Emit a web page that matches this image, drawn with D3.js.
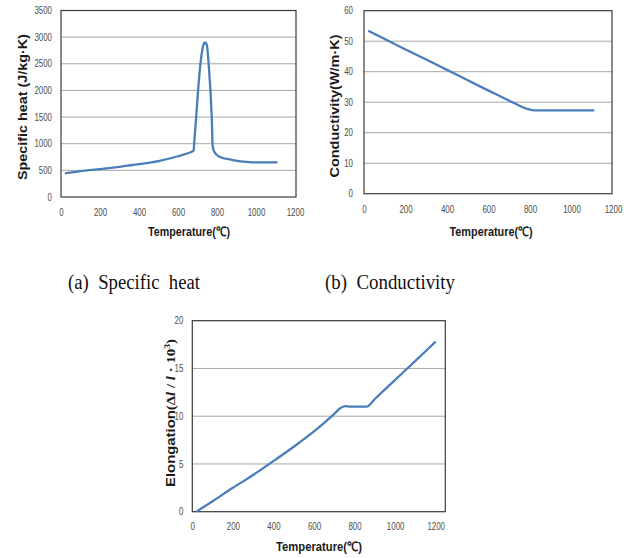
<!DOCTYPE html>
<html>
<head>
<meta charset="utf-8">
<script src="https://cdn.jsdelivr.net/npm/d3@7.9.0/dist/d3.min.js"></script>
<style>
  body { margin: 0; background: #fff; }
  svg { display: block; }
  .tick text { font-family: "Liberation Sans", sans-serif; font-size: 10px; fill: #4d4d4d; }
  .xtitle, .ytitle { font-family: "Liberation Sans", Arial, sans-serif; font-weight: bold; fill: #1a1a1a; }
  .caption { font-family: "Liberation Serif", "Times New Roman", serif; font-size: 20px; fill: #111; }
</style>
</head>
<body>
<svg id="fig" width="629" height="558"></svg>
<script>
// (a) specific heat
const tempHeat     = [20, 100, 200, 300, 400, 500, 600, 650, 680, 683, 693, 715, 730, 739, 748, 757, 773, 778, 786, 812, 880, 965, 1000, 1110];
const specificHeat = [444, 487, 525, 567, 615, 675, 765, 820, 870, 1000, 1500, 2500, 2850, 2900, 2850, 2500, 1500, 950, 850, 756, 694, 655, 650, 650];

// (b) conductivity
const tempCond     = [20, 100, 200, 300, 400, 500, 600, 700, 760, 790, 810, 830, 1110];
const conductivity = [53.4, 50.7, 47.3, 44.0, 40.6, 37.2, 33.8, 30.5, 28.5, 27.7, 27.4, 27.3, 27.3];

// (c) elongation
const tempElong  = [20, 100, 200, 300, 400, 500, 600, 650, 700, 735, 755, 780, 860, 900, 1000, 1100, 1200];
const elongation = [0, 1.1, 2.5, 3.85, 5.3, 6.8, 8.4, 9.3, 10.25, 10.9, 11.05, 11.0, 11.0, 11.8, 13.8, 15.8, 17.8];

const xTicks = [0, 200, 400, 600, 800, 1000, 1200];
const heatTicks = [0, 500, 1000, 1500, 2000, 2500, 3000, 3500];
const condTicks = [0, 10, 20, 30, 40, 50, 60];
const elongTicks = [0, 5, 10, 15, 20];

const LINE = "#4a7ebb";
const fmt = d3.format("d");
const svg = d3.select("#fig");
svg.append("rect").attr("width", 629).attr("height", 558).attr("fill", "#fff");

// narrow tick digits like the original
function squeeze(axisG) {
  axisG.selectAll(".tick text")
    .attr("textLength", function () { return this.textContent.length * 4.4; })
    .attr("lengthAdjust", "spacingAndGlyphs");
}

function drawPanel(p) {
  const x = d3.scaleLinear().domain([0, 1200]).range([p.left, p.x1200]);
  const y = d3.scaleLinear().domain([0, p.ymax]).range([p.bottom, p.top]);
  const g = svg.append("g");

  // gridlines
  g.selectAll("line.grid")
    .data(p.yTicks.filter(d => d > 0 && d < p.ymax))
    .join("line")
    .attr("x1", p.left).attr("x2", p.right)
    .attr("y1", d => y(d)).attr("y2", d => y(d))
    .attr("stroke", "#a6a6a6").attr("stroke-width", 1);

  // plot border
  g.append("rect")
    .attr("x", p.left).attr("y", p.top)
    .attr("width", p.right - p.left).attr("height", p.bottom - p.top)
    .attr("fill", "none").attr("stroke", "#3a3a3a").attr("stroke-width", 1.2);

  const xa = g.append("g").attr("transform", `translate(0,${p.bottom})`)
    .call(d3.axisBottom(x).tickValues(xTicks).tickFormat(fmt).tickSize(0).tickPadding(p.xpad));
  xa.select(".domain").remove();
  squeeze(xa);

  const ya = g.append("g").attr("transform", `translate(${p.left},0)`)
    .call(d3.axisLeft(y).tickValues(p.yTicks).tickFormat(fmt).tickSize(0).tickPadding(p.ypad));
  ya.select(".domain").remove();
  squeeze(ya);

  g.append("path")
    .datum(p.xs.map((t, i) => [t, p.ys[i]]))
    .attr("fill", "none")
    .attr("stroke", LINE)
    .attr("stroke-width", 2.3)
    .attr("stroke-linejoin", "round")
    .attr("d", d3.line().x(d => x(d[0])).y(d => y(d[1])).curve(d3.curveMonotoneX));

  g.append("text").attr("class", "xtitle")
    .attr("x", p.xtx).attr("y", p.xty)
    .attr("text-anchor", "middle")
    .attr("font-size", 13)
    .attr("textLength", p.xtw).attr("lengthAdjust", "spacingAndGlyphs")
    .text("Temperature(℃)");

  const yt = g.append("text").attr("class", "ytitle")
    .attr("transform", `translate(${p.ytx},${p.yty}) rotate(-90)`)
    .attr("text-anchor", "middle")
    .attr("font-size", 12.5);
  p.ytitle(yt);
}

drawPanel({
  left: 61, right: 296, x1200: 295, top: 10.5, bottom: 197, ymax: 3500,
  yTicks: heatTicks, xs: tempHeat, ys: specificHeat, xpad: 12, ypad: 9,
  xtx: 189, xty: 236, xtw: 82, ytx: 27, yty: 107,
  ytitle: t => t.attr("textLength", 146).attr("lengthAdjust", "spacingAndGlyphs").text("Specific heat (J/kg·K)")
});

drawPanel({
  left: 364, right: 612, x1200: 613, top: 10.7, bottom: 193.7, ymax: 60,
  yTicks: condTicks, xs: tempCond, ys: conductivity, xpad: 12, ypad: 11,
  xtx: 491, xty: 236, xtw: 83, ytx: 339, yty: 106,
  ytitle: t => t.attr("textLength", 143).attr("lengthAdjust", "spacingAndGlyphs").text("Conductivity(W/m·K)")
});

drawPanel({
  left: 192.3, right: 445.3, x1200: 435.7, top: 320.7, bottom: 511.7, ymax: 20,
  yTicks: elongTicks, xs: tempElong, ys: elongation, xpad: 11, ypad: 9,
  xtx: 319, xty: 551, xtw: 86, ytx: 175, yty: 413,
  ytitle: t => {
    t.attr("textLength", 148).attr("lengthAdjust", "spacingAndGlyphs");
    t.append("tspan").text("Elongation");
    t.append("tspan").attr("font-family", "Liberation Serif, serif").text("(Δ");
    t.append("tspan").attr("font-family", "Liberation Serif, serif").attr("font-style", "italic").text("l");
    t.append("tspan").attr("font-family", "Liberation Serif, serif").text(" / ");
    t.append("tspan").attr("font-family", "Liberation Serif, serif").attr("font-style", "italic").text("l");
    t.append("tspan").attr("font-family", "Liberation Serif, serif").text(" · 10");
    t.append("tspan").attr("font-family", "Liberation Serif, serif").attr("font-size", 8).attr("dy", -5).text("3");
    t.append("tspan").attr("font-family", "Liberation Serif, serif").attr("dy", 5).text(")");
  }
});

// captions
svg.append("text").attr("class", "caption").attr("x", 68).attr("y", 289)
  .attr("textLength", 132).attr("lengthAdjust", "spacingAndGlyphs")
  .attr("xml:space", "preserve").text("(a)  Specific  heat");
svg.append("text").attr("class", "caption").attr("x", 325).attr("y", 289)
  .attr("textLength", 130).attr("lengthAdjust", "spacingAndGlyphs")
  .attr("xml:space", "preserve").text("(b)  Conductivity");
</script>
</body>
</html>
